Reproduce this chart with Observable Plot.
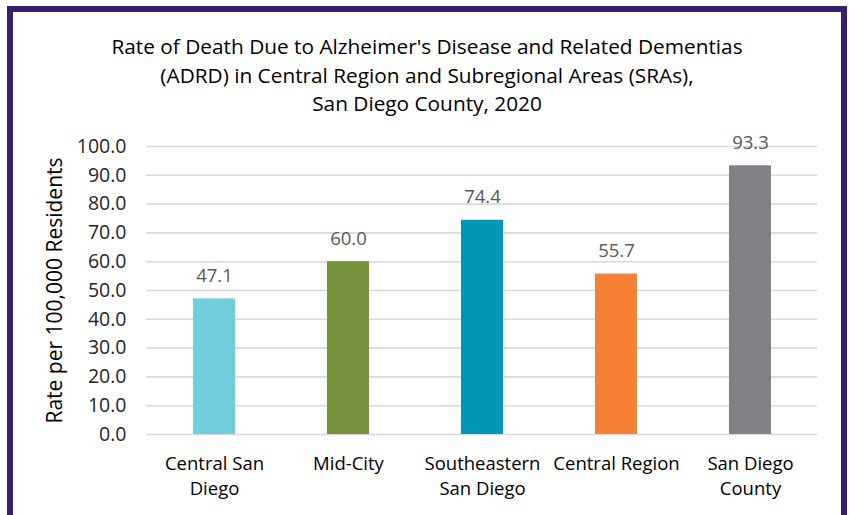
<!DOCTYPE html>
<html>
<head>
<meta charset="utf-8">
<script src="https://cdn.jsdelivr.net/npm/d3@7"></script>
<script src="https://cdn.jsdelivr.net/npm/@observablehq/plot@0.6"></script>
<style>
  html, body { margin: 0; padding: 0; background: #fff; width: 849px; height: 515px; overflow: hidden; }
  #frame { position: absolute; left: 7px; top: 6px; width: 828px; height: 600px; border: 6px solid #36206d; background: #fff; }
  #title { position: absolute; left: 0; top: 20px; width: 828px; text-align: center; font-family: "Open Sans", sans-serif; font-size: 20.8px; line-height: 28.5px; color: #000; }
  #chart { position: absolute; left: -13px; top: 113px; width: 849px; }
  #chart svg { max-width: none; }
</style>
</head>
<body>
<div id="frame">
  <div id="title">Rate of Death Due to Alzheimer's Disease and Related Dementias<br>(ADRD) in Central Region and Subregional Areas (SRAs),<br>San Diego County, 2020</div>
  <div id="chart"></div>
</div>
<script>
const categories = ["Central San Diego", "Mid-City", "Southeastern San Diego", "Central Region", "San Diego County"];
const tickLabels = ["Central San\nDiego", "Mid-City", "Southeastern\nSan Diego", "Central Region", "San Diego\nCounty"];
const values = [47.1, 60.0, 74.4, 55.7, 93.3];
const colors = ["#70cddc", "#76923c", "#0097b6", "#f58234", "#808285"];
const yTicks = [0, 10, 20, 30, 40, 50, 60, 70, 80, 90, 100];
const yLabel = "Rate per 100,000 Residents";

const data = categories.map((c, i) => ({cat: c, value: values[i], label: tickLabels[i], color: colors[i]}));

const chart = Plot.plot({
  width: 849,
  height: 390,
  marginLeft: 146,
  marginRight: 32,
  marginTop: 21,
  marginBottom: 81,
  style: {fontFamily: "'Open Sans', sans-serif", background: "transparent", overflow: "visible"},
  x: {domain: categories, paddingInner: 0.69, paddingOuter: 0.345, axis: null},
  y: {domain: [0, 100], axis: null},
  marks: [
    Plot.gridY(yTicks, {stroke: "#d9d9d9", strokeOpacity: 1, strokeWidth: 1.6}),
    Plot.barY(data, {x: "cat", y: "value", fill: "color"}),
    Plot.text(data, {x: "cat", y: "value", text: d => d.value.toFixed(1), dy: -23, fill: "#595959", fontSize: 18.5}),
    Plot.text(yTicks, {y: d => d, frameAnchor: "left", dx: -20, textAnchor: "end", text: d => d.toFixed(1), fill: "#262626", fontSize: 19.5}),
    Plot.text(data, {x: "cat", y: 0, text: "label", lineAnchor: "top", dy: 17, lineHeight: 1.38, fill: "#000", fontSize: 18.5}),
    Plot.text([yLabel], {frameAnchor: "left", dx: -91, rotate: -90, textAnchor: "middle", text: d => d, fill: "#000", fontSize: 21})
  ]
});
document.getElementById("chart").appendChild(chart);
</script>
</body>
</html>
